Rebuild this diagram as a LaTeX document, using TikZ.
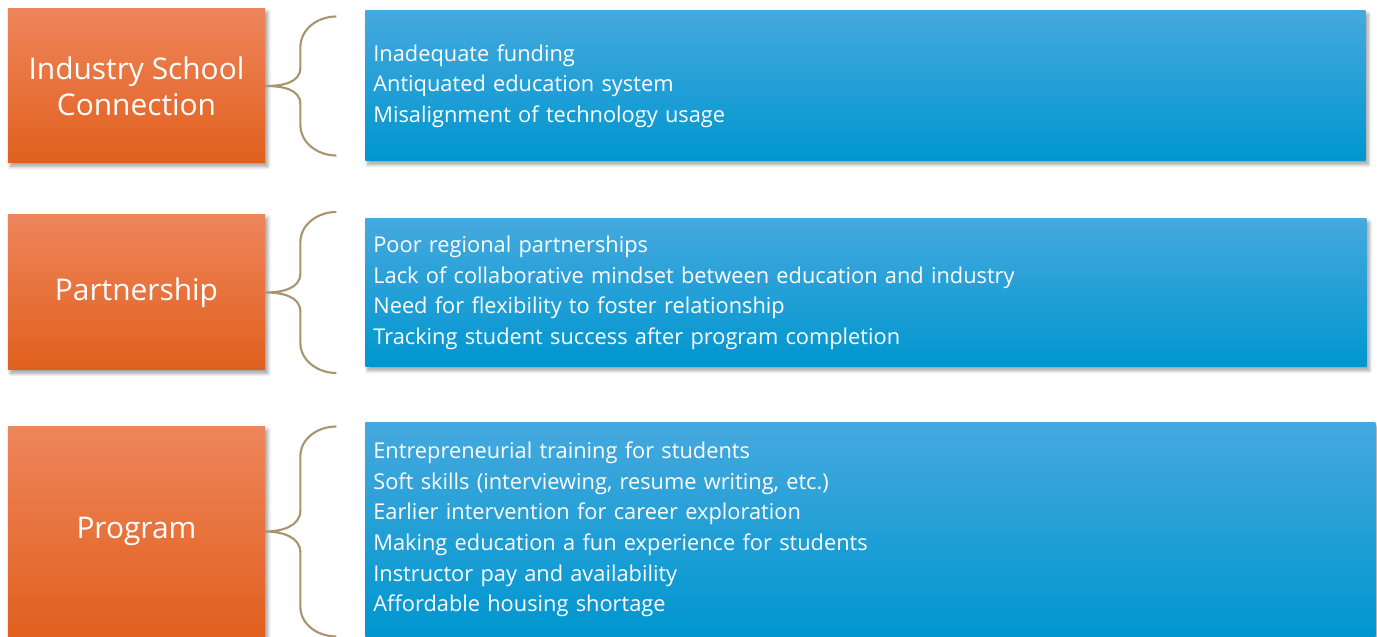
\documentclass[tikz,border=0pt]{standalone}
\usepackage{fontspec}
\setmainfont{Open Sans}
\usetikzlibrary{positioning, calc, shadows.blur}
\definecolor{themeTop}{HTML}{EE855B}
\definecolor{themeMid}{HTML}{F06E2C}
\definecolor{themeBot}{HTML}{E1601E}
\definecolor{issueTop}{HTML}{45A9DE}
\definecolor{issueMid}{HTML}{06A0DB}
\definecolor{issueBot}{HTML}{0096CF}
\definecolor{braceTan}{HTML}{A8946F}
\tikzset{
  themebox/.style={
    rectangle, draw=none, top color=themeTop, middle color=themeMid,
    bottom color=themeBot, text=white, align=center,
    font=\fontsize{17}{20.5}\selectfont, minimum width=5.14cm,
    blur shadow={shadow xshift=1.5pt, shadow yshift=-1.8pt,
      shadow opacity=40, shadow blur steps=6}
  },
  issuebox/.style={
    rectangle, draw=none, top color=issueTop, middle color=issueMid,
    bottom color=issueBot, text=white, align=left, anchor=west,
    inner sep=0.16cm, font=\fontsize{12.4}{17.4}\selectfont,
    blur shadow={shadow xshift=1.5pt, shadow yshift=-1.8pt,
      shadow opacity=40, shadow blur steps=6}
  },
  bracket/.style={draw=braceTan, line width=1.2pt}
}

\begin{document}
\begin{tikzpicture}
  \useasboundingbox (0,0) rectangle (27.54,-12.74);

  % ── Themes ──
  \node[themebox, minimum height=3.08cm] (industry) at (2.73,-1.72)
    {Industry School\\Connection};
  \node[themebox, minimum height=3.1cm] (partner) at (2.73,-5.85)
    {Partnership};
  \node[themebox, minimum height=4.18cm] (program) at (2.73,-10.63)
    {Program};

  % ── Issues ──
  \node[issuebox, text width=19.68cm, minimum height=3.0cm] (industryissues)
    at (7.3,-1.72) {Inadequate funding\\Antiquated education system\\
     Misalignment of technology usage};
  \node[issuebox, text width=19.7cm, minimum height=2.96cm] (partnerissues)
    at (7.3,-5.86) {Poor regional partnerships\\
     Lack of collaborative mindset between education and industry\\
     Need for flexibility to foster relationship\\
     Tracking student success after program completion};
  \node[issuebox, text width=19.88cm, minimum height=4.26cm] (programissues)
    at (7.3,-10.59) {Entrepreneurial training for students\\
     Soft skills (interviewing, resume writing, etc.)\\
     Earlier intervention for career exploration\\
     Making education a fun experience for students\\
     Instructor pay and availability\\
     Affordable housing shortage};

  % ── Braces ──
  \draw[bracket] ($(industry.east)+(1.42,1.39)$) to[out=180,in=90]
    ($(industry.east)+(0.7,0.77)$) -- ($(industry.east)+(0.7,0.36)$)
    to[out=-90,in=0] (industry.east) to[out=0,in=90]
    ($(industry.east)+(0.7,-0.36)$) -- ($(industry.east)+(0.7,-0.77)$)
    to[out=-90,in=180] ($(industry.east)+(1.42,-1.39)$);
  \draw[bracket] ($(partner.east)+(1.42,1.61)$) to[out=180,in=90]
    ($(partner.east)+(0.7,1.0)$) -- ($(partner.east)+(0.7,0.38)$)
    to[out=-90,in=0] (partner.east) to[out=0,in=90]
    ($(partner.east)+(0.7,-0.38)$) -- ($(partner.east)+(0.7,-1.0)$)
    to[out=-90,in=180] ($(partner.east)+(1.42,-1.61)$);
  \draw[bracket] ($(program.east)+(1.42,2.1)$) to[out=180,in=90]
    ($(program.east)+(0.7,1.5)$) -- ($(program.east)+(0.7,0.42)$)
    to[out=-90,in=0] (program.east) to[out=0,in=90]
    ($(program.east)+(0.7,-0.42)$) -- ($(program.east)+(0.7,-1.5)$)
    to[out=-90,in=180] ($(program.east)+(1.42,-2.1)$);
\end{tikzpicture}
\end{document}
